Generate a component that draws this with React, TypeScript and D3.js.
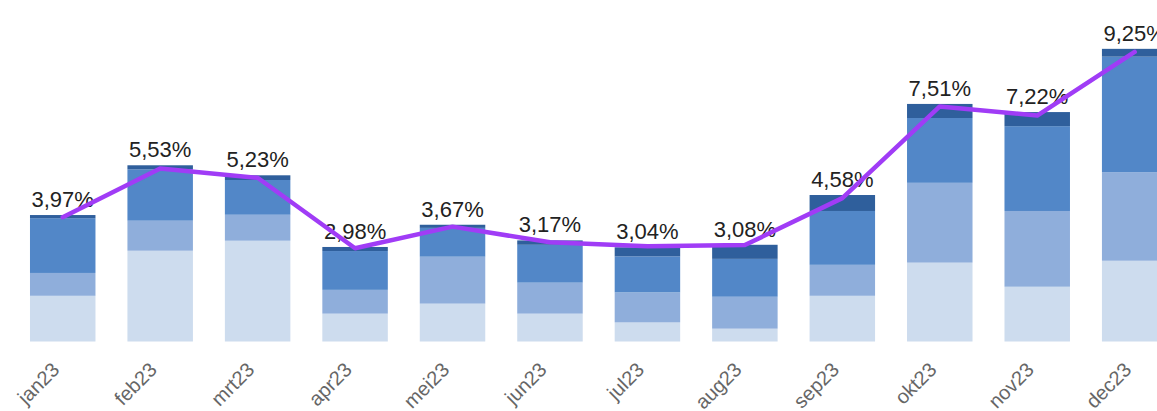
import React from "react";
import * as d3 from "d3";

// maanden
const months = ["jan23", "feb23", "mrt23", "apr23", "mei23", "jun23", "jul23", "aug23", "sep23", "okt23", "nov23", "dec23"];

// gestapelde segmenten (onder naar boven), in %-punten
const seg1 = [1.46, 2.9, 3.22, 0.89, 1.21, 0.89, 0.61, 0.41, 1.46, 2.52, 1.75, 2.58];
const seg2 = [0.73, 0.96, 0.83, 0.76, 1.5, 0.99, 0.96, 1.02, 0.99, 2.55, 2.42, 2.83];
const seg3 = [1.75, 1.64, 1.11, 1.24, 0.92, 1.21, 1.15, 1.21, 1.72, 2.07, 2.71, 3.69];
const seg4 = [0.1, 0.13, 0.15, 0.13, 0.1, 0.14, 0.29, 0.45, 0.51, 0.45, 0.45, 0.25];

// lijn (totaal %)
const lineValues = [3.97, 5.53, 5.23, 2.98, 3.67, 3.17, 3.04, 3.08, 4.58, 7.51, 7.22, 9.25];

const segColors = ["#cddcee", "#8faedb", "#5287c8", "#2f5f9c"];
const lineColor = "#a03cf6";

const W = 1157;
const H = 411;
const baseY = 341.5;

const App: React.FC = () => {
    const x = d3.scaleBand<string>()
        .domain(months)
        .range([14, 14 + 12 * 97.45])
        .paddingInner(0.328)
        .paddingOuter(0.164);

    const y = d3.scaleLinear()
        .domain([0, 10])
        .range([baseY, baseY - 313]);

    const rows = months.map((m, i) => ({
        month: m,
        s0: seg1[i], s1: seg2[i], s2: seg3[i], s3: seg4[i],
    }));
    const stack = d3.stack<any>().keys(["s0", "s1", "s2", "s3"])(rows);

    const totals = months.map((_, i) => seg1[i] + seg2[i] + seg3[i] + seg4[i]);

    const line = d3.line<number>()
        .x((_, i) => (x(months[i]) as number) + x.bandwidth() / 2)
        .y((d) => y(d));

    const fmt = (v: number) => v.toFixed(2).replace(".", ",") + "%";

    return (
        <svg width={W} height={H} style={{ position: "fixed", left: 0, top: 0, display: "block", background: "#fff" }}
            fontFamily="'Liberation Sans', Arial, sans-serif">
            {stack.map((layer, k) => (
                <g key={k} fill={segColors[k]}>
                    {layer.map((d, i) => (
                        <rect key={i}
                            x={x(months[i])}
                            width={x.bandwidth()}
                            y={y(d[1])}
                            height={y(d[0]) - y(d[1])} />
                    ))}
                </g>
            ))}

            {/* waardelabels */}
            {lineValues.map((v, i) => (
                <text key={i}
                    x={(x(months[i]) as number) + x.bandwidth() / 2}
                    y={y(totals[i]) - 8}
                    textAnchor="middle"
                    fontSize={22}
                    fill="#222">
                    {fmt(v)}
                </text>
            ))}

            <path d={line(lineValues) || ""} fill="none" stroke={lineColor} strokeWidth={4.5}
                strokeLinejoin="round" strokeLinecap="round" />

            {/* x-as labels */}
            {months.map((m) => (
                <text key={m}
                    transform={`translate(${(x(m) as number) + x.bandwidth() / 2 - 2},371) rotate(-45)`}
                    textAnchor="end"
                    fontSize={20}
                    fill="#666">
                    {m}
                </text>
            ))}
        </svg>
    );
};

export default App;
